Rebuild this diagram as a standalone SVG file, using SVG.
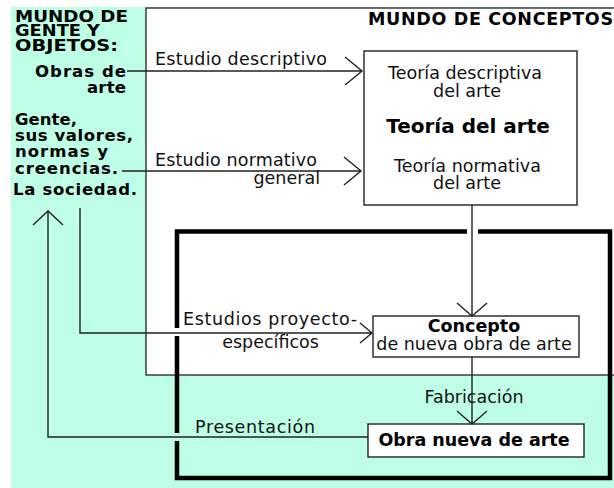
<svg xmlns="http://www.w3.org/2000/svg" width="614" height="488" viewBox="0 0 614 488">
<style>
.t{font-family:"DejaVu Sans",Verdana,sans-serif;font-size:17.5px;fill:#111}
.b{font-family:"DejaVu Sans",Verdana,sans-serif;font-size:17.5px;font-weight:bold;fill:#000}
.l{font-family:"DejaVu Sans",Verdana,sans-serif;font-size:16.5px;font-weight:bold;fill:#000}
.k{font-family:"DejaVu Sans",Verdana,sans-serif;font-size:15.5px;font-weight:bold;fill:#000}
.c{text-anchor:middle}
.e{text-anchor:end}
.ln{fill:none;stroke:#222;stroke-width:1.4}
.box{fill:#fff;stroke:#222;stroke-width:1.4}
</style>
<rect width="614" height="488" fill="#fff"/>
<g id="mundo-gente">
<rect x="11" y="7" width="603" height="481" fill="#BEFEE6"/>
<text class="k" x="15" y="21.5" textLength="113" lengthAdjust="spacingAndGlyphs">MUNDO DE</text>
<text class="k" x="15" y="36" textLength="85" lengthAdjust="spacingAndGlyphs">GENTE Y</text>
<text class="k" x="15" y="50.5" textLength="103" lengthAdjust="spacingAndGlyphs">OBJETOS:</text>
</g>
<g id="mundo-conceptos">
<rect x="146" y="8" width="472" height="367" fill="#fff" stroke="#222" stroke-width="1.3"/>
<text class="b e" x="613" y="25" textLength="245">MUNDO DE CONCEPTOS</text>
</g>
<g id="proyecto">
<path d="M177,328 L177,231.5 L467,231.5 M478,231.5 L610,231.5 L610,478 L177,478 L177,441 M177,433 L177,336" fill="none" stroke="#000" stroke-width="4.5"/>
</g>
<g id="obras">
<text class="l e" x="126" y="77" textLength="91">Obras de</text>
<text class="l e" x="126" y="93" textLength="39">arte</text>
</g>
<g id="sociedad">
<text class="l" x="15" y="125" textLength="62">Gente,</text>
<text class="l" x="15" y="141" textLength="118">sus valores,</text>
<text class="l" x="15" y="157" textLength="93">normas y</text>
<text class="l" x="15" y="174" textLength="103">creencias.</text>
<text class="l" x="13" y="195" textLength="124">La sociedad.</text>
</g>
<g id="teoria">
<rect class="box" x="364" y="51" width="213" height="154"/>
<text class="t c" x="465" y="79">Teoría descriptiva</text>
<text class="t c" x="467" y="97">del arte</text>
<text class="b c" x="468" y="133" style="font-size:20px">Teoría del arte</text>
<text class="t c" x="467.5" y="172">Teoría normativa</text>
<text class="t c" x="467" y="189">del arte</text>
</g>
<g id="concepto">
<rect class="box" x="373" y="316" width="206" height="41"/>
<text class="b c" x="474" y="332">Concepto</text>
<text class="t c" x="474" y="350">de nueva obra de arte</text>
</g>
<g id="obra-nueva">
<rect class="box" x="368" y="424" width="216" height="33"/>
<text class="b c" x="474" y="446">Obra nueva de arte</text>
</g>
<g id="connectors">
<path class="ln" d="M127,71 H362 M345,57 L362,71 L345,85"/>
<path class="ln" d="M122,171 H361 M344,157 L361,171 L344,185"/>
<path class="ln" d="M472,205 V316 M457,303 L472,316 L487,303"/>
<path class="ln" d="M472,357 V424 M457,411 L472,424 L487,411"/>
<path class="ln" d="M80,208 V333 H372 M360,323 L372,333 L360,343"/>
<path class="ln" d="M368,437 H48 V211 M33,225 L48,211 L63,225"/>
<text class="t" x="155" y="65" textLength="172">Estudio descriptivo</text>
<text class="t" x="155" y="166" textLength="162">Estudio normativo</text>
<text class="t e" x="320" y="184">general</text>
<text class="t" x="183" y="325" textLength="174">Estudios proyecto-</text>
<text class="t c" x="270.5" y="348">específicos</text>
<text class="t c" x="474" y="403">Fabricación</text>
<text class="t" x="195" y="433" textLength="120">Presentación</text>
</g>
</svg>
